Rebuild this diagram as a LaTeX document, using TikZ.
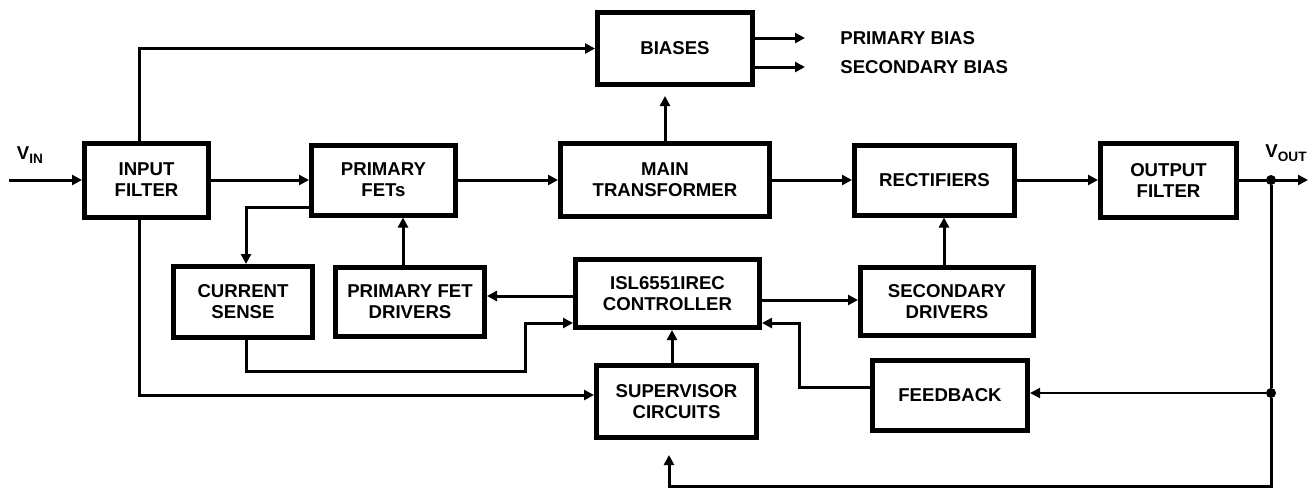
\documentclass[tikz,border=0pt]{standalone}
\usepackage{fontspec}
\setmainfont{Liberation Sans}
\usetikzlibrary{positioning,arrows.meta}
\tikzset{block/.style={draw,line width=2.5pt,align=center,inner sep=2pt,font=\bfseries\fontsize{9.3}{10.5}\selectfont},
  conn/.style={line width=1.5pt},
  lbl/.style={inner sep=0pt,font=\bfseries\fontsize{9.3}{10.5}\selectfont},
  dot/.style={circle,fill,inner sep=0pt,minimum size=5pt}}
\newcommand{\subtxt}[1]{\raisebox{-2pt}{\fontsize{6.8}{7}\selectfont #1}}

\begin{document}
\begin{tikzpicture}[>={Triangle[length=5pt,width=5pt]}]
\useasboundingbox (0,0) rectangle (657pt,-244.5pt);
\begin{scope}[on grid]

  \node[block,minimum width=62pt,minimum height=37pt] (filt) at (73.25pt,-90pt) {INPUT\\FILTER};
  \node[block,minimum width=72pt,minimum height=35pt] (fets) [right=118.5pt of filt] {PRIMARY\\FETs};
  \node[block,minimum width=104.5pt,minimum height=36.5pt] (mt) [right=140.75pt of fets] {MAIN\\TRANSFORMER};
  \node[block,minimum width=80pt,minimum height=35pt] (rect) [right=134.75pt of mt] {RECTIFIERS};
  \node[block,minimum width=68pt,minimum height=37pt] (ofilt) [right=117pt of rect] {OUTPUT\\FILTER};
  \node[block,minimum width=77.5pt,minimum height=36pt] (biases) [above right=65.75pt and 5pt of mt] {BIASES};
  \node[block,minimum width=92pt,minimum height=34pt] (ctrl) [below right=56.75pt and 1.25pt of mt] {ISL6551IREC\\CONTROLLER};
  \node[block,minimum width=74.5pt,minimum height=34.5pt] (pfd) [below left=4.25pt and 128.75pt of ctrl] {PRIMARY FET\\DRIVERS};
  \node[block,minimum width=69.5pt,minimum height=35.5pt] (cs) [left=83.5pt of pfd] {CURRENT\\SENSE};
  \node[block,minimum width=86.5pt,minimum height=34pt] (sd) [below right=4pt and 139.75pt of ctrl] {SECONDARY\\DRIVERS};
  \node[block,minimum width=80pt,minimum height=36pt] (sup) [below right=54pt and 4.5pt of ctrl] {SUPERVISOR\\CIRCUITS};
  \node[block,minimum width=77.5pt,minimum height=35pt] (fb) [above right=3pt and 136.75pt of sup] {FEEDBACK};

  \node[lbl] (vinlbl) at (15pt,-77.5pt) {V\subtxt{IN}};
  \node[lbl] (voutlbl) at (643pt,-76.5pt) {V\subtxt{OUT}};
  \node[lbl,anchor=west] (pbias) at (420pt,-19pt) {PRIMARY BIAS};
  \node[lbl,anchor=west] (sbias) at (420pt,-33.5pt) {SECONDARY BIAS};

  \coordinate (vin) at (4.5pt,-90pt);
  \coordinate (vout) at (654pt,-90pt);
  \node[dot] (tap) at (635.5pt,-90pt) {};
  \node[dot] (tap2) at (635.5pt,-196.5pt) {};
  \coordinate (btm) at (635.5pt,-243pt);
  \coordinate (csturn) at (262.5pt,-185.5pt);

    \path[conn,->]
    (vin) edge (filt)
    (filt) edge (fets)
    (fets) edge (mt)
    (mt) edge (rect)
    (rect) edge (ofilt)
    (ofilt) edge (vout)
    (mt.north) edge [shorten >=4.5pt] (mt.north |- biases.south)
    (biases.east |- pbias.west) edge ([xshift=-17.5pt]pbias.west)
    (biases.east |- sbias.west) edge ([xshift=-17.5pt]sbias.west)
    ;

    \draw[conn,->] ([xshift=-3.75pt]filt.north) |- (biases.west);
    \draw[conn,->] ([xshift=-3.75pt]filt.south) |- ([yshift=3.25pt]sup.west);
    \draw[conn,->] ([yshift=-13.5pt]fets.west) -| ([xshift=1.5pt]cs.north);
    \draw[conn,->] ([xshift=-3.5pt]pfd.north) -- ([xshift=-3.5pt]pfd.north |- fets.south);
    \draw[conn,->] ([yshift=-1.25pt]ctrl.west) -- ([yshift=-1.25pt]ctrl.west -| pfd.east);
    \draw[conn,->] ([xshift=1.5pt]cs.south) |- (csturn) |- ([yshift=-14.75pt]ctrl.west);
    \draw[conn,->] ([yshift=-3.25pt]ctrl.east) -- ([yshift=-3.25pt]ctrl.east -| sd.west);
    \draw[conn,->] ([xshift=-1.5pt]sd.north) -- ([xshift=-1.5pt]sd.north |- rect.south);
    \draw[conn,->] ([yshift=4.25pt]fb.west) -- ++(-35.5pt,0) |- ([yshift=-14.75pt]ctrl.east);
    \draw[conn,->] ([xshift=-2.25pt]sup.north) -- ([xshift=-2.25pt]sup.north |- ctrl.south);
    \draw[line width=1pt,->] (tap2) -- (tap2 -| fb.east);
    \draw[conn] (tap) -- (tap2);
    \draw[conn,->,shorten >=7.5pt] (tap2) -- (btm) -| ([xshift=-3.75pt]sup.south);

\end{scope}
\end{tikzpicture}
\end{document}
